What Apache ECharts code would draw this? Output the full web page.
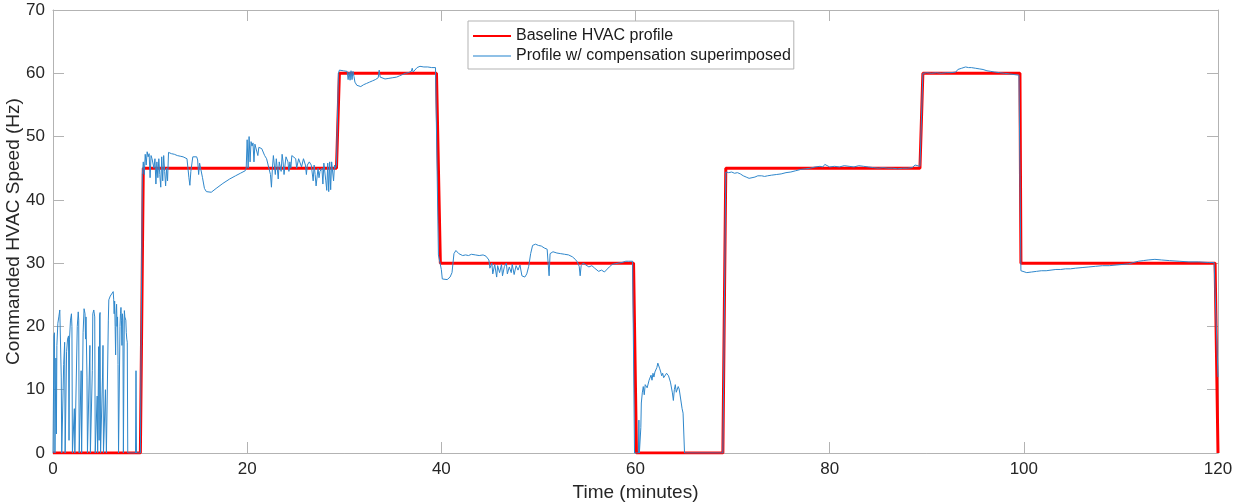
<!DOCTYPE html>
<html>
<head>
<meta charset="utf-8">
<script src="https://cdn.jsdelivr.net/npm/echarts@6/dist/echarts.min.js"></script>
<style>
html,body{margin:0;padding:0;background:#fff;}
#chart{width:1235px;height:504px;}
</style>
</head>
<body>
<div id="chart"></div>
<script>
// Baseline HVAC profile (time in minutes, speed in Hz)
const baseT = [0, 9.0, 9.3, 29.2, 29.5, 39.5, 39.9, 59.8, 60.1, 69.0, 69.3, 89.3, 89.6, 99.6, 99.7, 119.7, 120];
const baseV = [0, 0, 45, 45, 60, 60, 30, 30, 0, 0, 45, 45, 60, 60, 30, 30, 0];

// Profile w/ compensation superimposed
const compT1 = [0.0,0.1,0.15,0.2,0.3,0.35,0.4,0.5,0.6,0.7,0.8,0.85,0.9,1.05,1.1,1.2,1.25,1.35,1.4,1.5,1.6,1.65,1.7,1.8,1.9,1.95,2.0,2.1,2.2,2.25,2.4,2.5,2.6,2.65,2.7,2.8,2.9,2.95,3.05,3.1,3.2,3.3,3.35,3.4,3.5,3.55,3.7,3.8,3.85,4.0,4.05,4.1,4.2,4.3,4.35,4.5,4.55,4.6,4.7,4.75,4.8,4.85,4.9,5.0,5.1,5.15,5.2,5.3,5.4,5.5,5.6,5.7,5.75,5.85,5.9,6.0,6.1,6.2,6.25,6.3,6.35,6.4,6.45,6.5,6.55,6.6,6.65,6.7,6.75,6.85,6.9,6.95,7.0,7.05,7.1,7.15,7.2,7.25,7.3,7.35,7.4,7.5,7.55,7.6,7.65,7.7,8.5,8.55,8.6,9.0,9.2];
const compV1 = [0,18.5,19,0,15,3,17,20.5,21.5,22.6,22.3,12,0,0,14,17.5,0,0,16,18,18.5,2,18,21,22,20,0,0,7,0,0,20,22.3,21,0,0,13,0,0,19,22.8,22,18,21.5,12,0,0,17,0,0,13,22,22.6,21.5,0,0,9,0,16.8,2,21.8,22.2,0,0,12,17,0,0,10,0,0,21,24.2,24,24.8,24.5,25,25.5,24.3,22,24,20,15.5,22,23.5,20,21.5,14,0,0,20,22,23,21,17,22,21,0,0,22.5,21.5,21,19,18,17.5,0,0,13,0,0,44];

const compT2 = [9.3,9.4,9.5,9.6,9.7,9.8,9.9,10.0,10.1,10.2,10.3,10.4,10.5,10.6,10.7,10.8,10.9,11.0,11.1,11.2,11.3,11.4,11.5,11.6,11.7,11.8,11.9,12.0,12.2,12.5,12.8,13.1,13.4,13.6,13.8,13.9,14.0,14.1,14.2,14.4,14.6,14.8,14.9,15.0,15.1,15.3,15.4,15.6,15.8,16.0,16.3,16.8,17.5,18.2,18.8,19.3,19.8,19.9,20.0,20.1,20.2,20.3,20.4,20.5,20.6,20.7,20.8,21.0,21.1,21.2,21.5,21.8,22.0,22.2,22.4,22.5,22.6,22.7,22.8,22.9,23.0,23.1,23.2,23.3,23.5,23.6,23.7,23.8,23.9,24.0,24.1,24.2,24.3,24.4,24.5,24.6,24.8,25.0,25.1,25.2,25.3,25.5,25.6,25.8,25.9,26.0,26.1,26.2,26.4,26.6,26.8,26.9,27.0,27.1,27.3,27.4,27.5,27.7,27.8,27.9,28.0,28.1,28.2,28.3,28.4,28.5,28.6,28.7,28.8,28.9,29.0,29.1,29.2,29.4];
const compV2 = [46,44,47.2,45.5,47.6,46.8,47.3,43.5,47,46.5,46.8,45,46.5,42.5,46,43.5,46.5,44,42,46.8,43,47,44.5,42.2,45,43,47.5,47.8,47.3,47.2,47,46.9,46.8,46.6,46.5,45,43.5,42.3,44.5,46.8,47,46.8,46.3,44,45.8,45.5,43.5,41.8,41.3,41,41.2,41.8,42.6,43.3,43.8,44.2,44.6,45,49.5,45,50,46,49.2,48.5,49,46,48.8,48.6,47,48.3,48.1,47,46.5,46.2,44,42,45,47,45.5,44,46.5,45,43.3,46,44.5,47.2,46,44,45.5,46.8,47,46,44.5,46,45,47,46.8,46.5,45,44.8,46.5,46.3,45.2,46.5,46.7,45.5,44,45.5,46,45.5,43,45.5,44,42.2,45,43.5,44.5,45,42.5,45.8,46,43,41.5,45.8,41.3,46,41.6,46,45.7,43,45.5,45,45.5,60];

const compT3 = [29.5,29.7,29.9,30.1,30.3,30.4,30.5,30.6,30.7,30.8,30.9,31.0,31.1,31.3,31.5,31.7,32.0,32.3,32.6,32.9,33.2,33.5,33.6,33.7,33.9,34.2,34.6,35.0,35.4,35.7,36.0,36.3,36.6,36.9,37.0,37.1,37.3,37.5,37.8,38.2,38.6,39.0,39.4,39.7];
const compV3 = [60.5,60.6,60.4,60.5,60.3,59,60.2,58.9,60.4,59,60.3,59.5,58.6,58.1,57.8,57.9,58.2,58.4,58.6,58.8,59.0,59.3,60.5,59.4,59.2,59.1,59.2,59.3,59.4,59.6,59.8,60.0,60.1,60.3,60.8,60.2,60.4,60.9,61.1,61.0,61.0,60.9,60.9,31.3];

const compT4 = [39.9,40.0,40.1,40.3,40.6,40.9,41.1,41.3,41.5,41.8,42.2,42.5,42.8,43.1,43.5,43.9,44.3,44.6,44.9,45.0,45.2,45.3,45.5,45.7,45.8,46.0,46.2,46.3,46.5,46.7,46.8,47.0,47.2,47.3,47.5,47.7,47.9,48.1,48.3,48.6,48.8,49.0,49.2,49.4,49.7,50.0,50.3,50.6,50.9,51.0,51.1,51.2,51.5,51.9,52.3,52.7,53.1,53.5,53.8,54.0,54.2,54.3,54.4,54.6,54.9,55.2,55.5,55.8,56.0,56.2,56.5,56.8,57.0,57.3,57.6,57.9,58.2,58.6,59.0,59.3,59.5,59.7,59.9];
const compV4 = [31,29,27.5,27.2,27.4,27.8,28.5,31.5,32,31.5,31.2,31.3,31.2,31.4,31.3,31.2,31.3,31.1,30.5,29.2,30,28.3,29.8,27.8,29.6,28.5,29.8,28,29.5,30,28.3,29.4,28.5,29.8,28.2,29.6,28.9,29.7,28,27.8,28.3,29.5,31.5,32.8,33,32.8,32.7,32.4,32.2,30,28,31.5,31.8,31.6,31.5,31.4,31.3,31,30.6,30.2,29.5,28,29.6,30,29.7,29.4,29.6,29.2,29,28.7,28.9,28.6,28.9,29.4,29.8,29.9,30,30.1,30.3,30.3,30.6,30.3,0];

const compT5 = [60.3,60.35,60.4,60.5,60.55,60.6,60.7,60.8,60.9,61.0,61.1,61.2,61.4,61.6,61.7,61.8,61.9,62.0,62.1,62.2,62.3,62.4,62.5,62.6,62.7,62.8,62.9,63.0,63.2,63.4,63.5,63.6,63.7,63.8,63.9,64.0,64.1,64.2,64.4,64.5,64.6,64.7,64.8,64.9,65.0,65.05,69.0,69.3];
const compV5 = [0,5.2,0,0,4,7.9,9.5,10.5,9.2,10.8,11,10.3,11.5,12.3,11.5,12.6,12,12.8,12.5,13.5,14.2,14,13.3,12.8,12.2,12.6,11.9,12.1,12.6,12.2,11.9,11.2,11.4,9.5,8.3,10,10.8,9.6,10.5,10.1,9.8,10.4,7,6.3,6.2,0,0,44.4];

const compT6 = [69.6,69.9,70.2,70.5,70.8,71.1,71.4,71.7,72.0,72.3,72.6,72.8,73.0,73.3,73.6,74.0,74.5,75.0,75.5,76.0,76.5,77.0,77.5,78.0,78.5,79.0,79.3,79.5,79.7,80.0,80.5,81.0,81.5,82.0,82.5,83.0,83.2,83.5,84.0,84.5,85.0,85.5,86.0,86.5,87.0,87.5,88.0,88.5,88.8,89.0,89.3,89.6];
const compV6 = [44.3,44.4,44.2,44.3,44.1,43.8,43.6,43.4,43.5,43.6,43.8,44,43.8,43.7,43.8,43.9,44.0,44.1,44.3,44.4,44.6,44.8,44.9,45.0,45.2,45.3,45.2,45.6,45.3,45.2,45.3,45.2,45.4,45.3,45.2,45.4,45.1,45.3,45.2,45.1,45.0,45.1,45.0,45.0,44.9,45.0,45.0,45.1,45.5,45.2,45.3,60.0];

const compT7 = [90.0,90.5,91.0,91.5,92.0,92.5,93.0,93.2,93.4,93.6,93.8,94.0,94.3,94.6,95.0,95.4,95.8,96.2,96.6,97.0,97.5,98.0,98.5,99.0,99.5,99.7];
const compV7 = [60.1,60.0,60.1,60.0,60.1,60.1,60.2,60.6,60.5,60.8,60.7,61.0,60.9,60.9,60.8,60.7,60.6,60.4,60.3,60.2,60.1,60.0,59.9,59.8,59.7,28.8];

const compT8 = [99.9,100.3,100.8,101.3,101.8,102.3,102.8,103.3,103.8,104.3,104.8,105.3,106.0,106.7,107.4,108.1,108.8,109.5,110.2,110.8,111.3,111.8,112.3,112.8,113.5,114.2,115.0,116.0,117.0,118.0,119.0,119.6,119.8,120];
const compV8 = [28.6,28.5,28.6,28.7,28.8,28.8,28.9,29.0,29.0,29.1,29.1,29.2,29.3,29.4,29.5,29.6,29.6,29.7,29.8,29.9,30.1,30.3,30.4,30.5,30.6,30.5,30.4,30.3,30.2,30.2,30.1,30.1,29.8,12];

const xTicks = {min: 0, max: 120, interval: 20};
const yTicks = {min: 0, max: 70, interval: 10};

function pairs(ts, vs) { return ts.map((t, i) => [t, vs[i]]); }
const baseData = pairs(baseT, baseV);
const compData = [].concat(
  pairs(compT1, compV1), pairs(compT2, compV2), pairs(compT3, compV3), pairs(compT4, compV4),
  pairs(compT5, compV5), pairs(compT6, compV6), pairs(compT7, compV7), pairs(compT8, compV8)
);

const FONT = '"Liberation Sans", Arial, Helvetica, sans-serif';
const AX = '#b3b3b3';
const TXT = '#262626';

function axisCommon(extra) {
  return Object.assign({
    type: 'value',
    nameMoveOverlap: false,
    axisLine: {show: true, onZero: false, lineStyle: {color: AX, width: 1}},
    axisTick: {show: true, inside: true, length: 11, lineStyle: {color: AX, width: 1}},
    splitLine: {show: false},
    axisLabel: {color: TXT, fontSize: 17, fontFamily: FONT, margin: 8}
  }, extra);
}

const chart = echarts.init(document.getElementById('chart'), null, {renderer: 'canvas'});
chart.setOption({
  animation: false,
  backgroundColor: '#ffffff',
  grid: {left: 53, right: 17, top: 10, bottom: 51, containLabel: false, outerBoundsMode: 'none'},
  xAxis: [
    axisCommon(Object.assign({position: 'bottom', name: 'Time (minutes)', nameLocation: 'middle', nameGap: 30,
      nameTextStyle: {color: TXT, fontSize: 19, fontFamily: FONT}}, xTicks)),
    axisCommon(Object.assign({position: 'top', axisLabel: {show: false}}, xTicks))
  ],
  yAxis: [
    axisCommon(Object.assign({position: 'left', name: 'Commanded HVAC Speed (Hz)', nameLocation: 'middle', nameGap: 30,
      nameTextStyle: {color: TXT, fontSize: 19, fontFamily: FONT}}, yTicks)),
    axisCommon(Object.assign({position: 'right', axisLabel: {show: false}}, yTicks))
  ],
  legend: {
    orient: 'vertical', left: 468, top: 21,
    backgroundColor: '#ffffff', borderColor: AX, borderWidth: 1,
    padding: [7, 3, 5, 5], itemGap: 4, itemWidth: 38, itemHeight: 2, icon: 'rect',
    textStyle: {color: '#1a1a1a', fontSize: 16, fontFamily: FONT},
    data: [
      {name: 'Baseline HVAC profile', icon: 'rect', itemStyle: {color: '#ff0000'}},
      {name: 'Profile w/ compensation superimposed', icon: 'rect', itemStyle: {color: '#8fc0e6'}}
    ]
  },
  series: [
    {name: 'Baseline HVAC profile', type: 'line', data: baseData, symbol: 'none', z: 2,
     lineStyle: {color: '#ff0000', width: 3}, itemStyle: {color: '#ff0000'}},
    {name: 'Profile w/ compensation superimposed', type: 'line', data: compData, symbol: 'none', z: 3,
     lineStyle: {color: '#2f87cb', width: 1}, itemStyle: {color: '#2f87cb'}}
  ]
});
</script>
</body>
</html>
